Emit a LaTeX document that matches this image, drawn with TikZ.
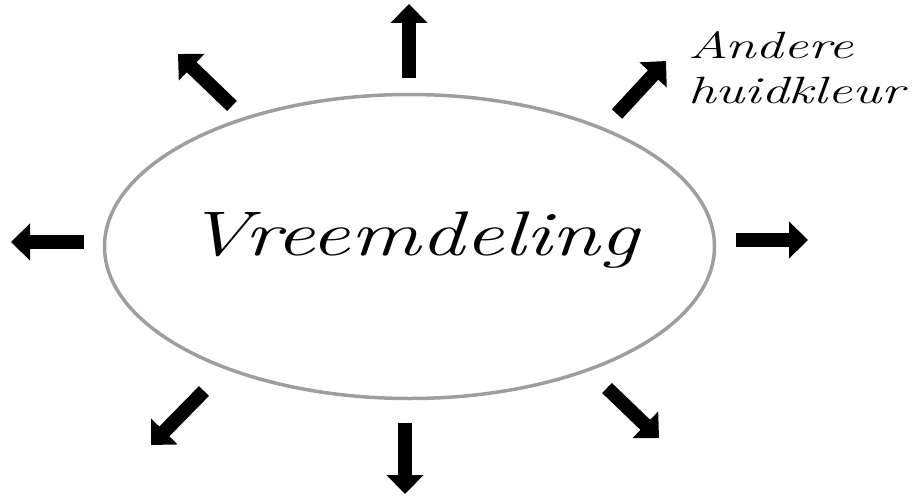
\documentclass[tikz,border=0pt]{standalone}
\usetikzlibrary{arrows.meta,shapes.geometric}
\begin{document}
\begin{tikzpicture}[x=1pt,y=-1pt,
  bigarrow/.style={line width=14pt,-{Triangle[width=36pt,length=19pt]}},
  oval/.style={ellipse,draw=black!38,line width=3.5pt,inner sep=0pt},
  hand/.style={inner sep=0pt,font=\itshape}]
\useasboundingbox (0,0) rectangle (920,495);
\node[oval,minimum width=610pt,minimum height=304pt] (e) at (409.5,246.5) {};
\node[hand,anchor=base,xscale=1.39,font=\fontsize{63}{70}\selectfont\itshape] (v) at (413,255) {Vreemdeling};
\node[hand,anchor=north west,align=left,xscale=1.45,font=\fontsize{38}{45}\selectfont\itshape] (t) at (688,31) {Andere\\huidkleur};
% arrow end points
\coordinate (nT) at (409,78);  \coordinate (nH) at (409,4);
\coordinate (neT) at (617,114); \coordinate (neH) at (666,61);
\coordinate (eT) at (736,240); \coordinate (eH) at (808,240);
\coordinate (seT) at (607,388); \coordinate (seH) at (659,438);
\coordinate (sT) at (405,423); \coordinate (sH) at (405,494);
\coordinate (swT) at (204,391); \coordinate (swH) at (151,445);
\coordinate (wT) at (84,242); \coordinate (wH) at (11,242);
\coordinate (nwT) at (232,106); \coordinate (nwH) at (178,54);
\foreach \d in {n,ne,e,se,s,sw,w,nw}
  \draw[bigarrow] (\d T) -- (\d H);
\end{tikzpicture}
\end{document}
